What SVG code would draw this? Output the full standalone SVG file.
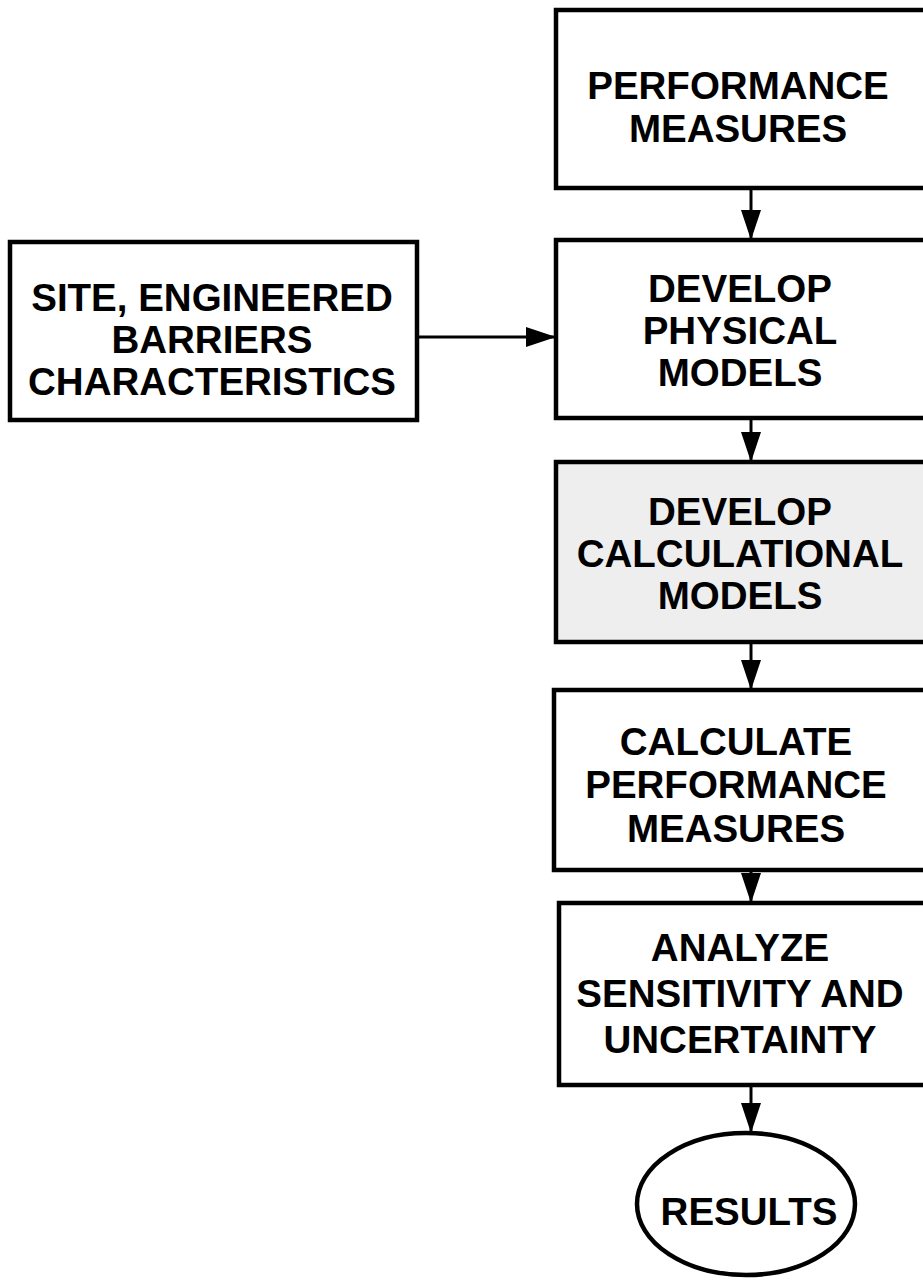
<svg xmlns="http://www.w3.org/2000/svg" width="923" height="1280" viewBox="0 0 923 1280">
<style>
.box{fill:#ffffff;stroke:#000;stroke-width:4.5}
.shade{fill:#eeeeee;stroke:#000;stroke-width:4.5}
.lbl{font-family:"Liberation Sans",Arial,sans-serif;font-weight:bold;font-size:38.5px;fill:#000;text-anchor:middle}
.con{stroke:#000;stroke-width:3;fill:none;marker-end:url(#ah)}
</style>
<defs>
<marker id="ah" markerUnits="userSpaceOnUse" markerWidth="30" markerHeight="20" refX="30" refY="10" orient="auto">
<path d="M0,0 L30,10 L0,20 Z" fill="#000"/>
</marker>
</defs>
<g id="connectors">
<line class="con" x1="751" y1="188" x2="751" y2="240"/>
<line class="con" x1="417" y1="337" x2="556" y2="337"/>
<line class="con" x1="751" y1="418" x2="751" y2="462"/>
<line class="con" x1="751" y1="642" x2="751" y2="690"/>
<line class="con" x1="751" y1="870" x2="751" y2="903"/>
<line class="con" x1="751" y1="1085" x2="751" y2="1133"/>
</g>
<g id="performance-measures">
<rect class="box" x="556" y="10" width="400" height="178"/>
<text class="lbl" x="738" y="99">PERFORMANCE</text>
<text class="lbl" x="738" y="142">MEASURES</text>
</g>
<g id="site-characteristics">
<rect class="box" x="10" y="242" width="407" height="178"/>
<text class="lbl" x="212" y="311">SITE, ENGINEERED</text>
<text class="lbl" x="212" y="353">BARRIERS</text>
<text class="lbl" x="212" y="395">CHARACTERISTICS</text>
</g>
<g id="develop-physical-models">
<rect class="box" x="556" y="240" width="400" height="178"/>
<text class="lbl" x="740" y="302">DEVELOP</text>
<text class="lbl" x="740" y="344">PHYSICAL</text>
<text class="lbl" x="740" y="386">MODELS</text>
</g>
<g id="develop-calculational-models">
<rect class="shade" x="556" y="462" width="400" height="180"/>
<text class="lbl" x="740" y="525">DEVELOP</text>
<text class="lbl" x="740" y="567">CALCULATIONAL</text>
<text class="lbl" x="740" y="609">MODELS</text>
</g>
<g id="calculate-performance-measures">
<rect class="box" x="554" y="690" width="400" height="180"/>
<text class="lbl" x="736" y="755">CALCULATE</text>
<text class="lbl" x="736" y="798">PERFORMANCE</text>
<text class="lbl" x="736" y="842">MEASURES</text>
</g>
<g id="analyze-sensitivity">
<rect class="box" x="559" y="903" width="400" height="182"/>
<text class="lbl" x="740" y="961">ANALYZE</text>
<text class="lbl" x="740" y="1007">SENSITIVITY AND</text>
<text class="lbl" x="740" y="1053">UNCERTAINTY</text>
</g>
<g id="results">
<ellipse class="box" cx="746" cy="1204" rx="109" ry="71"/>
<text class="lbl" x="749" y="1225">RESULTS</text>
</g>
</svg>
